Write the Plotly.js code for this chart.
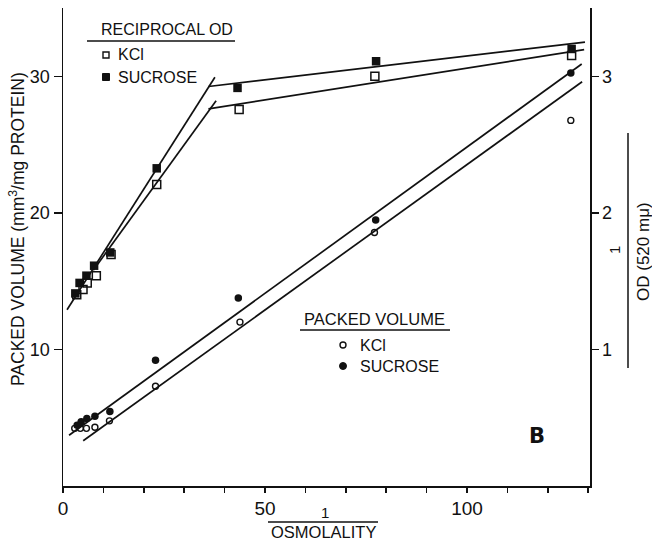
<!DOCTYPE html>
<html>
<head>
<meta charset="utf-8">
<script src="https://cdn.plot.ly/plotly-3.0.1.min.js"></script>
<style>html,body{margin:0;padding:0;background:#fff;}#chart{width:652px;height:541px;}</style>
</head>
<body>
<div id="chart"></div>
<script>
// ---- Data: reciprocal OD (right axis, 1/OD) ----
const odSucX = [3.05, 4.1, 5.8, 7.7, 11.7, 23.2, 43.2, 77.5, 125.9];
const odSucY = [1.41, 1.487, 1.54, 1.613, 1.71, 2.326, 2.915, 3.11, 3.20];
const odKclX = [3.4, 4.95, 6.0, 8.25, 11.9, 23.2, 43.6, 77.2, 125.9];
const odKclY = [1.40, 1.438, 1.487, 1.54, 1.695, 2.207, 2.757, 3.00, 3.153];
// fitted lines for reciprocal OD
const odSucSteepX = [1.0, 37.6],  odSucSteepY = [1.29, 2.993];
const odSucFlatX  = [36.0, 129.2], odSucFlatY  = [2.925, 3.25];
const odKclSteepX = [7.5, 37.9],  odKclSteepY = [1.58, 2.82];
const odKclFlatX  = [36.0, 129.0], odKclFlatY  = [2.762, 3.195];

// ---- Data: packed volume (left axis, mm3/mg protein) ----
const pvSucX = [3.5, 4.5, 5.9, 7.9, 11.6, 22.9, 43.4, 77.4, 125.7];
const pvSucY = [4.45, 4.7, 4.95, 5.1, 5.45, 9.2, 13.77, 19.47, 30.24];
const pvKclX = [2.9, 4.3, 5.8, 7.9, 11.5, 22.9, 43.8, 77.1, 125.7];
const pvKclY = [4.22, 4.22, 4.22, 4.3, 4.77, 7.3, 12.0, 18.56, 26.77];
// fitted lines for packed volume
const pvSucLineX = [1.5, 128.4], pvSucLineY = [3.72, 30.9];
const pvKclLineX = [5.0, 128.5], pvKclLineY = [3.31, 29.6];

// ---- Axis ticks ----
const xTickVals = [0,10,20,30,40,50,60,70,80,90,100,110,120,130];
const xTickText = ['0',' ',' ',' ',' ','50',' ',' ',' ',' ','100',' ',' ',' '];
const yTickVals = [10,20,30];
const y2TickVals = [1,2,3];

const FONT = 'Liberation Sans, Arial, Helvetica, sans-serif';
const INK = '#111';

const lineStyle = {color: INK, width: 1.7};
function lineTrace(x, y, axis) {
  return {x: x, y: y, yaxis: axis, mode: 'lines', line: lineStyle, showlegend: false, hoverinfo: 'skip'};
}

const traces = [
  lineTrace(odSucSteepX, odSucSteepY, 'y2'),
  lineTrace(odSucFlatX, odSucFlatY, 'y2'),
  lineTrace(odKclSteepX, odKclSteepY, 'y2'),
  lineTrace(odKclFlatX, odKclFlatY, 'y2'),
  lineTrace(pvSucLineX, pvSucLineY, 'y'),
  lineTrace(pvKclLineX, pvKclLineY, 'y'),
  {x: odKclX, y: odKclY, yaxis: 'y2', mode: 'markers', showlegend: false,
   marker: {symbol: 'square-open', size: 8, color: INK, line: {width: 1.5, color: INK}}},
  {x: odSucX, y: odSucY, yaxis: 'y2', mode: 'markers', showlegend: false,
   marker: {symbol: 'square', size: 8.5, color: INK}},
  {x: pvKclX, y: pvKclY, yaxis: 'y', mode: 'markers', showlegend: false,
   marker: {symbol: 'circle-open', size: 6, color: INK, line: {width: 1.4, color: INK}}},
  {x: pvSucX, y: pvSucY, yaxis: 'y', mode: 'markers', showlegend: false,
   marker: {symbol: 'circle', size: 7.5, color: INK}}
];

// pixel -> paper helpers (plot area 63..590 x, 8..486 y)
const PL = 63, PR = 590, PT = 8, PB = 486;
const fx = x => (x - PL) / (PR - PL);
const fy = y => (PB - y) / (PB - PT);

function txt(text, x, y, opts) {
  return Object.assign({text: text, xref: 'paper', yref: 'paper', x: fx(x), y: fy(y),
    showarrow: false, xanchor: 'left', yanchor: 'middle',
    font: {family: FONT, size: 16, color: INK}}, opts || {});
}
function hline(x0, x1, y) {
  return {type: 'line', xref: 'paper', yref: 'paper', x0: fx(x0), x1: fx(x1), y0: fy(y), y1: fy(y), line: {color: INK, width: 1.5}};
}

const annotations = [
  txt('RECIPROCAL OD', 99, 30),
  txt('KCl', 116, 55),
  txt('SUCROSE', 116, 77),
  txt('PACKED VOLUME', 302, 319, {font: {family: FONT, size: 16.5, color: INK}}),
  txt('KCl', 358, 345),
  txt('SUCROSE', 358, 366),
  txt('<b>B</b>', 537, 436, {xanchor: 'center', font: {family: 'DejaVu Sans, sans-serif', size: 21, color: INK}}),
  // x-axis title as fraction
  txt('1', 325, 512, {xanchor: 'center', font: {family: FONT, size: 15, color: INK}}),
  txt('OSMOLALITY', 323, 532, {xanchor: 'center', font: {family: FONT, size: 16.5, color: INK}}),
  // left y title
  txt('PACKED VOLUME (mm<sup>3</sup>/mg PROTEIN)', 17, 229, {xanchor: 'center', textangle: -90, font: {family: FONT, size: 17.5, color: INK}}),
  // right y title as fraction
  txt('1', 615, 250, {xanchor: 'center', textangle: -90, font: {family: FONT, size: 15, color: INK}}),
  txt('OD (520 mμ)', 643, 252, {xanchor: 'center', textangle: -90, font: {family: FONT, size: 17, color: INK}})
];

const shapes = [
  hline(87, 235, 41),
  hline(300, 450, 330),
  hline(268, 378, 522),
  {type: 'line', xref: 'paper', yref: 'paper', x0: fx(628), x1: fx(628), y0: fy(133), y1: fy(368), line: {color: INK, width: 1.5}},
  // legend symbols
  {type: 'rect', xref: 'paper', yref: 'paper', x0: fx(103), x1: fx(109), y0: fy(52), y1: fy(58), line: {color: INK, width: 1.4}, fillcolor: 'white'},
  {type: 'rect', xref: 'paper', yref: 'paper', x0: fx(102.5), x1: fx(109.5), y0: fy(73.5), y1: fy(80.5), line: {color: INK, width: 1}, fillcolor: INK},
  {type: 'circle', xref: 'paper', yref: 'paper', x0: fx(340), x1: fx(346), y0: fy(342), y1: fy(348), line: {color: INK, width: 1.4}, fillcolor: 'white'},
  {type: 'circle', xref: 'paper', yref: 'paper', x0: fx(339.5), x1: fx(346.5), y0: fy(362.5), y1: fy(369.5), line: {color: INK, width: 1}, fillcolor: INK}
];

const layout = {
  width: 652, height: 541,
  margin: {l: PL, r: 652 - PR, t: PT, b: 541 - PB, pad: 0},
  paper_bgcolor: 'white', plot_bgcolor: 'white',
  showlegend: false,
  font: {family: FONT, color: INK, size: 16},
  xaxis: {range: [0, 130.45], tickmode: 'array', tickvals: xTickVals, ticktext: xTickText,
    ticks: 'outside', ticklen: 5, tickwidth: 1.5, tickcolor: INK,
    showline: true, linewidth: 1.5, linecolor: INK, showgrid: false, zeroline: false,
    tickfont: {family: FONT, size: 19, color: INK}},
  yaxis: {range: [0, 35], tickmode: 'array', tickvals: yTickVals,
    ticks: 'outside', ticklen: 8, tickwidth: 1.5, tickcolor: INK,
    showline: true, linewidth: 1.5, linecolor: INK, showgrid: false, zeroline: false,
    tickfont: {family: FONT, size: 18, color: INK}},
  yaxis2: {range: [0, 3.5], overlaying: 'y', side: 'right', tickmode: 'array', tickvals: y2TickVals,
    ticks: 'outside', ticklen: 7, tickwidth: 1.5, tickcolor: INK,
    showline: true, linewidth: 1.5, linecolor: INK, showgrid: false, zeroline: false,
    tickfont: {family: FONT, size: 18, color: INK}},
  annotations: annotations,
  shapes: shapes
};

Plotly.newPlot('chart', traces, layout, {staticPlot: true, displayModeBar: false});
</script>
</body>
</html>
